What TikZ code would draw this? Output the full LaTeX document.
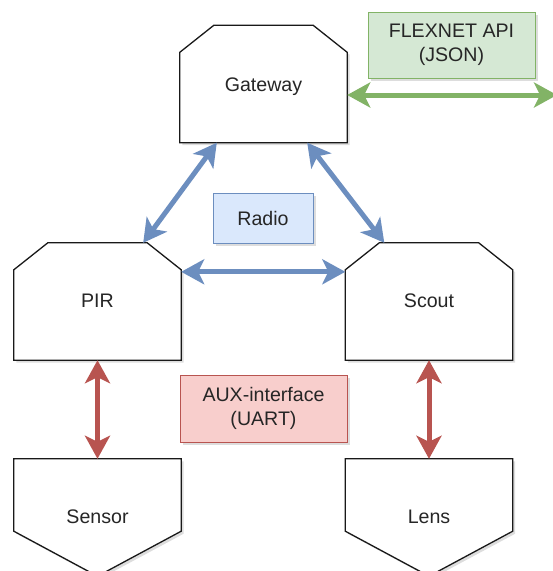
\documentclass[tikz,border=0pt]{standalone}
\usepackage{fontspec}
\setmainfont{Liberation Sans}
\usetikzlibrary{arrows.meta,shadows}

\definecolor{radioline}{HTML}{6C8EBF}
\definecolor{radiofill}{HTML}{DAE8FC}
\definecolor{auxline}{HTML}{B85450}
\definecolor{auxfill}{HTML}{F8CECC}
\definecolor{apiline}{HTML}{82B366}
\definecolor{apifill}{HTML}{D5E8D4}

\tikzset{
  softshadow/.style={drop shadow={shadow xshift=2.5pt, shadow yshift=-2.5pt, opacity=0.22, fill=black!60}},
  devbox/.style={rectangle, minimum width=167pt, minimum height=117pt, inner sep=0pt, text=black!85},
  outline/.style={draw=black!90, line width=1.3pt, fill=white, line join=miter, softshadow},
  tag/.style={rectangle, draw=#1line, fill=#1fill, line width=1pt, inner sep=0pt, align=center, text=black!85, softshadow},
  link/.style={draw=#1, line width=5pt, {Stealth[length=23pt, width=25pt, inset=6pt]}-{Stealth[length=23pt, width=25pt, inset=6pt]}},
}

\begin{document}
\begin{tikzpicture}[x=1pt, y=-1pt, font=\fontsize{19.6}{24.5}\selectfont]
  \useasboundingbox (0,0) rectangle (553,571);
  \clip (0,0) rectangle (553,571);

  % device nodes (outlines drawn below)
  \node[devbox] (gw)   at (263.5, 84) {};
  \node[devbox] (pir)  at (97.5, 301.5) {};
  \node[devbox] (sc)   at (429, 301.5) {};
  \node[devbox] (sen)  at (97.5, 517.5) {};
  \node[devbox] (lens) at (429, 517.5) {};

  % chamfered-top outlines for gateway, PIR and scout
  \foreach \n in {gw,pir,sc} {
    \draw[outline] (\n.south west) -- ([yshift=-27pt]\n.north west) -- ([xshift=34pt]\n.north west)
      -- ([xshift=-34pt]\n.north east) -- ([yshift=-27pt]\n.north east) -- (\n.south east) -- cycle;
  }
  % off-page style outlines for sensor and lens
  \foreach \n in {sen,lens} {
    \draw[outline] (\n.north west) -- (\n.north east) -- ([yshift=45pt]\n.south east)
      -- (\n.south) -- ([yshift=45pt]\n.south west) -- cycle;
  }
  % labels on top of the outlines
  \foreach \n/\t/\d in {gw/Gateway/-3,pir/PIR/1,sc/Scout/1,sen/Sensor/1,lens/Lens/1} {
    \node[text=black!85] (\n-label) at ([yshift=\d pt]\n.center) {\t};
  }

  % interface labels
  \node[tag=radio, minimum width=100pt, minimum height=50pt] (radio) at (263, 218) {Radio};
  \node[tag=aux, minimum width=167pt, minimum height=67pt] (aux) at (263.5, 408.5) {AUX-interface\\(UART)};
  \node[tag=api, minimum width=167pt, minimum height=66pt] (api) at (451.5, 45) {FLEXNET API\\(JSON)};

  % external API end
  \coordinate (ext) at (557, 95);

  % radio links
  \draw[link=radioline] ([xshift=37pt]gw.south west) -- ([xshift=-38pt]pir.north east);
  \draw[link=radioline] ([xshift=-40pt]gw.south east) -- ([xshift=39pt]sc.north west);
  \draw[link=radioline] ([yshift=-29pt]pir.north east) -- ([yshift=-29pt]sc.north west);

  % AUX links
  \draw[link=auxline] (pir.south) -- (sen.north);
  \draw[link=auxline] (sc.south) -- (lens.north);

  % API link
  \draw[link=apiline] ([yshift=-11pt]gw.east) -- (ext);
\end{tikzpicture}
\end{document}
